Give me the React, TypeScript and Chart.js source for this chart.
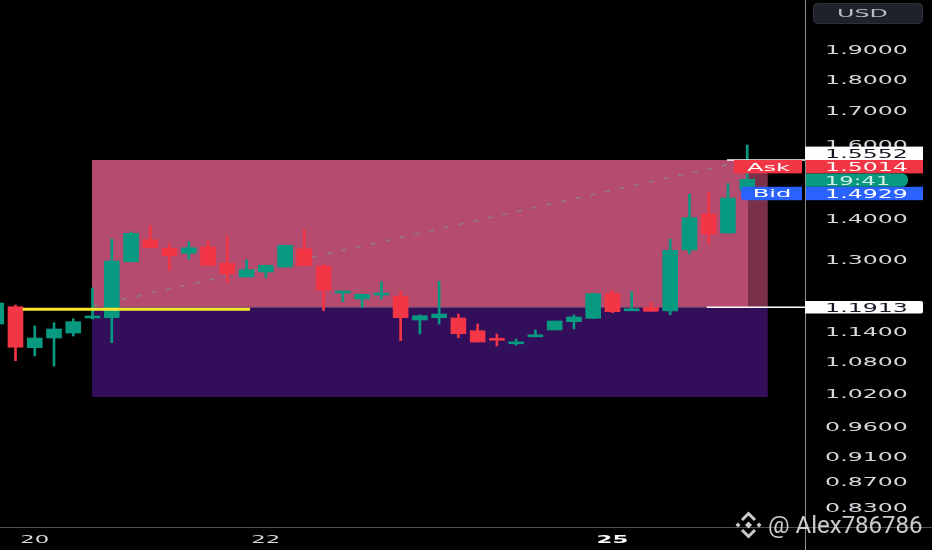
import React, { useEffect, useRef } from 'react';
import { Chart, registerables } from 'chart.js';

Chart.register(...registerables);

// ---- data ----
const dayLabels = ['20', '22', '25'];
const dayTickIndex = [2, 14, 32];
const priceTicks = [1.9, 1.8, 1.7, 1.6, 1.4, 1.3, 1.14, 1.08, 1.02, 0.96, 0.91, 0.87, 0.83];

const opens = [
  1.1558, 1.1926, 1.1073, 1.1269, 1.1372, 1.1685, 1.1691, 1.2937, 1.3462, 1.3254,
  1.3135, 1.3285, 1.2899, 1.2584, 1.2698, 1.2813, 1.3244, 1.2836, 1.2225, 1.2093,
  1.2181, 1.2152, 1.1642, 1.1691, 1.1685, 1.1419, 1.1235, 1.1151, 1.1294, 1.1434,
  1.1607, 1.1678, 1.2218, 1.1838, 1.1913, 1.1833, 1.3212, 1.4102, 1.3626, 1.4728,
];
const closes = [
  1.2006, 1.1082, 1.1269, 1.1454, 1.1607, 1.1706, 1.2953, 1.3618, 1.3268, 1.3078,
  1.3268, 1.2853, 1.2659, 1.2751, 1.2853, 1.3326, 1.2844, 1.2285, 1.2236, 1.2196,
  1.2192, 1.1691, 1.1733, 1.1769, 1.1357, 1.1188, 1.1223, 1.1162, 1.1304, 1.1621,
  1.1706, 1.2209, 1.1818, 1.1848, 1.1827, 1.3206, 1.4008, 1.3594, 1.4516, 1.5014,
];
const highs = [
  1.2071, 1.1962, 1.1517, 1.1585, 1.1670, 1.2336, 1.3479, 1.3650, 1.3799, 1.3365,
  1.3413, 1.3430, 1.3552, 1.2984, 1.2853, 1.3335, 1.3707, 1.2883, 1.2247, 1.2203,
  1.2477, 1.2269, 1.1749, 1.2486, 1.1769, 1.1558, 1.1351, 1.1249, 1.1434, 1.1621,
  1.1749, 1.2220, 1.2285, 1.2254, 1.2021, 1.3479, 1.4614, 1.4667, 1.4896, 1.5976,
];
const lows = [
  1.1521, 1.0816, 1.0909, 1.0713, 1.1310, 1.1664, 1.1174, 1.2930, 1.3261, 1.2728,
  1.2993, 1.2836, 1.2455, 1.2584, 1.2568, 1.2813, 1.2836, 1.1840, 1.2034, 1.1904,
  1.2093, 1.1215, 1.1351, 1.1558, 1.1276, 1.1188, 1.1108, 1.1122, 1.1290, 1.1434,
  1.1454, 1.1670, 1.1797, 1.1838, 1.1827, 1.1754, 1.3118, 1.3357, 1.3626, 1.4728,
];

const trendX = [5, 38];
const trendY = [1.1938, 1.5423];
const keyLevelX = [1.374, 13.18];
const keyLevel = 1.187;
const zoneX = [4.97, 39.04, 40.07];
const targetPrice = 1.5552;
const entryPrice = 1.1913;
const stopPrice = 1.0129;
const askPrice = 1.5014;
const bidPrice = 1.4929;
const countdown = '19:41';
const entryMarkX = 36.9;
const targetMarkX = 37.95;
const yMin = 0.8007;
const yMax = 2.0766;
const xMin = 0.195;
const xMax = 42.0;

const GREEN = '#089981';
const RED = '#f23645';
const BLUE = '#2962ff';
const PINK = '#b54b6e';
const DARK_PINK = '#7b304a';
const PURPLE = '#320e5b';
const FONT = '"DejaVu Sans"';

function stretchText(
  ctx: CanvasRenderingContext2D,
  text: string,
  cx: number,
  cy: number,
  size: number,
  sx: number,
  color: string,
  weight = 'normal'
) {
  ctx.save();
  ctx.font = `${weight} ${size}px ${FONT}`;
  ctx.fillStyle = color;
  ctx.textAlign = 'center';
  ctx.textBaseline = 'alphabetic';
  ctx.translate(cx, cy + size * 0.729 / 2);
  ctx.scale(sx, 1);
  ctx.fillText(text, 0, 0);
  ctx.restore();
}

export default function App() {
  const ref = useRef<HTMLCanvasElement>(null);

  useEffect(() => {
    const canvas = ref.current!;
    const idx = opens.map((_, i) => i);
    const candleColors = idx.map((i) => (closes[i] >= opens[i] ? GREEN : RED));

    const overlay = {
      id: 'overlay',
      afterDraw(chart: any) {
        const ctx: CanvasRenderingContext2D = chart.ctx;
        const xs = chart.scales.x;
        const ys = chart.scales.y;
        const area = chart.chartArea;
        const W = chart.width;
        const H = chart.height;
        const labelCx = area.right + 61.5;

        // y tick labels
        ys.ticks.forEach((t: any) => {
          stretchText(ctx, t.value.toFixed(4), labelCx, ys.getPixelForValue(t.value), 13, 1.82, '#d6d8de');
        });
        // x tick labels
        xs.ticks.forEach((t: any, k: number) => {
          const bold = k === xs.ticks.length - 1;
          stretchText(ctx, dayLabels[k], xs.getPixelForValue(t.value), area.bottom + 12, 11, 2.07,
            bold ? '#ffffff' : '#d6d8de', bold ? 'bold' : 'normal');
        });

        // axis lines
        ctx.save();
        ctx.strokeStyle = '#505050';
        ctx.lineWidth = 1;
        ctx.beginPath();
        ctx.moveTo(0, Math.round(area.bottom) + 0.5);
        ctx.lineTo(W, Math.round(area.bottom) + 0.5);
        ctx.stroke();
        ctx.strokeStyle = '#8f8f8f';
        ctx.beginPath();
        ctx.moveTo(Math.round(area.right) + 0.5, 0);
        ctx.lineTo(Math.round(area.right) + 0.5, H);
        ctx.stroke();

        // level marker lines
        ctx.strokeStyle = '#ffffff';
        ctx.lineWidth = 1.5;
        const yEntry = ys.getPixelForValue(entryPrice);
        ctx.beginPath();
        ctx.moveTo(xs.getPixelForValue(entryMarkX), yEntry);
        ctx.lineTo(area.right, yEntry);
        ctx.stroke();
        const yTarget = ys.getPixelForValue(targetPrice);
        ctx.beginPath();
        ctx.moveTo(xs.getPixelForValue(targetMarkX), yTarget);
        ctx.lineTo(area.right, yTarget);
        ctx.stroke();
        ctx.restore();

        // price label stack
        const boxX = area.right;
        const h = 13.4;
        const top = yTarget - 13.3;
        ctx.save();
        ctx.fillStyle = '#ffffff';
        ctx.fillRect(boxX, top, 118, h);
        ctx.fillStyle = RED;
        ctx.fillRect(boxX + 1, top + h, 117, h);
        ctx.fillStyle = GREEN;
        ctx.beginPath();
        ctx.roundRect(boxX + 1, top + 2 * h, 102, h, [0, 6, 6, 0]);
        ctx.fill();
        ctx.fillStyle = BLUE;
        ctx.fillRect(boxX + 1, top + 3 * h, 117, h);
        // left labels
        ctx.fillStyle = RED;
        ctx.fillRect(734, top + h, 68, h);
        ctx.fillStyle = BLUE;
        ctx.beginPath();
        ctx.roundRect(741, top + 3 * h, 61, h, [4, 0, 0, 4]);
        ctx.fill();
        ctx.restore();
        stretchText(ctx, targetPrice.toFixed(4), labelCx, top + h / 2, 13, 1.82, '#131722');
        stretchText(ctx, askPrice.toFixed(4), labelCx, top + 1.5 * h, 13, 1.82, '#ffffff');
        stretchText(ctx, countdown, labelCx - 9, top + 2.5 * h, 13, 1.75, '#d4efe8');
        stretchText(ctx, bidPrice.toFixed(4), labelCx, top + 3.5 * h, 13, 1.82, '#ffffff');
        stretchText(ctx, 'Ask', 768.5, top + 1.5 * h, 11, 2.2, '#ffffff');
        stretchText(ctx, 'Bid', 772, top + 3.5 * h, 11, 2.2, '#ffffff');

        // entry label
        ctx.save();
        ctx.fillStyle = '#ffffff';
        ctx.beginPath();
        ctx.roundRect(boxX, yEntry - 6.3, 118, 12.6, [0, 2, 2, 0]);
        ctx.fill();
        ctx.restore();
        stretchText(ctx, entryPrice.toFixed(4), labelCx, yEntry, 13, 1.82, '#131722');

        // currency box
        ctx.save();
        ctx.fillStyle = '#1e222b';
        ctx.strokeStyle = '#2c303a';
        ctx.beginPath();
        ctx.roundRect(813.5, 3.5, 109, 20, 4);
        ctx.fill();
        ctx.stroke();
        ctx.restore();
        stretchText(ctx, 'USD', 862.5, 13.3, 11, 2.17, '#b8bbc3');

        // watermark
        ctx.save();
        ctx.fillStyle = 'rgba(225,225,225,0.9)';
        ctx.font = `24px Roboto`;
        ctx.textBaseline = 'alphabetic';
        ctx.textAlign = 'left';
        ctx.fillText('@ Alex786786', 768, 532.5);
        const lx = 748.5;
        const ly = 525;
        const diamond = (cx: number, cy: number, r: number) => {
          ctx.beginPath();
          ctx.moveTo(cx, cy - r);
          ctx.lineTo(cx + r, cy);
          ctx.lineTo(cx, cy + r);
          ctx.lineTo(cx - r, cy);
          ctx.closePath();
          ctx.fill();
        };
        diamond(lx, ly, 3.5);
        diamond(lx - 10.5, ly, 2.5);
        diamond(lx + 10.5, ly, 2.5);
        ctx.strokeStyle = 'rgba(225,225,225,0.9)';
        ctx.lineWidth = 3;
        ctx.beginPath();
        ctx.moveTo(lx - 6.5, ly - 5);
        ctx.lineTo(lx, ly - 11.5);
        ctx.lineTo(lx + 6.5, ly - 5);
        ctx.stroke();
        ctx.beginPath();
        ctx.moveTo(lx - 6.5, ly + 5);
        ctx.lineTo(lx, ly + 11.5);
        ctx.lineTo(lx + 6.5, ly + 5);
        ctx.stroke();
        ctx.restore();
      },
    };

    const lineBase = {
      type: 'line' as const,
      pointRadius: 0,
      borderWidth: 0,
      borderColor: 'transparent',
      tension: 0,
    };

    const chart = new Chart(canvas, {
      type: 'bar',
      data: {
        datasets: [
          {
            ...lineBase,
            label: 'target zone',
            data: [{ x: zoneX[0], y: targetPrice }, { x: zoneX[1], y: targetPrice }],
            fill: { target: { value: entryPrice } },
            backgroundColor: PINK,
            order: 20,
          } as any,
          {
            ...lineBase,
            label: 'target zone (future)',
            data: [{ x: zoneX[1], y: targetPrice }, { x: zoneX[2], y: targetPrice }],
            fill: { target: { value: entryPrice } },
            backgroundColor: DARK_PINK,
            order: 20,
          } as any,
          {
            ...lineBase,
            label: 'stop zone',
            data: [{ x: zoneX[0], y: stopPrice }, { x: zoneX[2], y: stopPrice }],
            fill: { target: { value: entryPrice } },
            backgroundColor: PURPLE,
            order: 20,
          } as any,
          {
            ...lineBase,
            label: 'entry',
            data: [{ x: zoneX[0], y: entryPrice }, { x: zoneX[2], y: entryPrice }],
            fill: false,
            borderWidth: 1,
            borderColor: 'rgba(120,80,120,0.9)',
            order: 15,
          } as any,
          {
            ...lineBase,
            label: 'trend',
            data: [{ x: trendX[0], y: trendY[0] }, { x: trendX[1], y: trendY[1] }],
            fill: false,
            borderWidth: 1.5,
            borderColor: 'rgba(135,135,135,0.85)',
            borderDash: [5, 10],
            order: 10,
          } as any,
          {
            type: 'bar',
            label: 'wicks',
            data: idx.map((i) => ({ x: i, y: [lows[i], highs[i]] })),
            backgroundColor: candleColors,
            barThickness: 2,
            grouped: false,
            borderWidth: 0,
            minBarLength: 1,
            order: 6,
          } as any,
          {
            type: 'bar',
            label: 'bodies',
            data: idx.map((i) => ({ x: i, y: [opens[i], closes[i]] })),
            backgroundColor: candleColors,
            barThickness: 15,
            grouped: false,
            borderWidth: 0,
            minBarLength: 2,
            order: 5,
          } as any,
          {
            ...lineBase,
            label: 'key level',
            data: [{ x: keyLevelX[0], y: keyLevel }, { x: keyLevelX[1], y: keyLevel }],
            fill: false,
            borderWidth: 3,
            borderColor: '#f7e62c',
            order: 1,
          } as any,
        ],
      },
      options: {
        animation: false,
        responsive: true,
        maintainAspectRatio: false,
        events: [],
        layout: { padding: 0 },
        plugins: {
          legend: { display: false },
          tooltip: { enabled: false },
          title: { display: false },
        },
        scales: {
          x: {
            type: 'linear',
            min: xMin,
            max: xMax,
            offset: false,
            grid: { display: false },
            border: { display: false },
            ticks: { display: false },
            afterBuildTicks: (s: any) => {
              s.ticks = dayTickIndex.map((v) => ({ value: v }));
            },
            afterFit: (s: any) => {
              s.height = 23;
            },
          },
          y: {
            type: 'logarithmic',
            position: 'right',
            min: yMin,
            max: yMax,
            grid: { display: false },
            border: { display: false },
            ticks: { display: false },
            afterBuildTicks: (s: any) => {
              s.ticks = priceTicks.map((v) => ({ value: v }));
            },
            afterFit: (s: any) => {
              s.width = 127;
            },
          },
        },
      } as any,
      plugins: [overlay],
    });

    return () => chart.destroy();
  }, []);

  return (
    <div style={{ position: 'fixed', left: 0, top: 0, width: 932, height: 550, background: '#000' }}>
      <canvas ref={ref} />
    </div>
  );
}
